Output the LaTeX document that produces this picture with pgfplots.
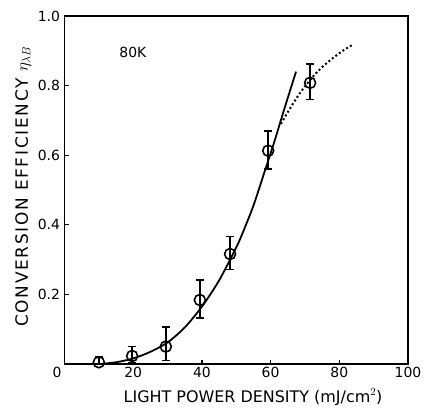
\documentclass[border=0pt]{standalone}
\usepackage{fontspec}
\setmainfont{DejaVu Sans}
\usepackage{pgfplots}
\pgfplotsset{compat=1.18}

\begin{document}
\begin{tikzpicture}
	\begin{axis}[
	scale only axis,
	width=343.5bp,
	height=348bp,
	xmin=0, xmax=100,
	ymin=0, ymax=1,
	xtick={0,20,...,100},
	xticklabels={{\makebox[0pt][r]{0\kern3bp}},20,40,60,80,100},
	ytick={0.2,0.4,0.6,0.8,1.0},
	xtick pos=left,
	ytick pos=left,
	tick align=inside,
	major tick length=4bp,
	axis line style={line width=1.9pt},
	tick style={line width=1.4pt, black},
	/pgf/number format/assume math mode=true,
	yticklabel style={/pgf/number format/fixed, /pgf/number format/precision=1, /pgf/number format/fixed zerofill, font=\fontsize{14}{14}\selectfont, xshift=-1bp},
	xticklabel style={font=\fontsize{14}{14}\selectfont},
	xlabel={LIGHT POWER DENSITY (mJ/cm$^2$)},
	ylabel={\addfontfeature{LetterSpace=10}CONVERSION EFFICIENCY $\eta_{\lambda B}$},
	every axis x label/.style={at={(axis description cs:0.549,-0.095)}, anchor=center, font=\fontsize{16}{16}\selectfont},
	every axis y label/.style={at={(axis description cs:-0.12,0.51)}, anchor=center, rotate=90, font=\fontsize{17}{17}\selectfont},
	]
	% fitted curve (solid)
	\addplot [line width=1.8pt, black, smooth, mark=none] coordinates {
		(10.3,0.0) (15,0.005) (20,0.016) (25,0.035) (30,0.062) (35,0.105)
		(40,0.165) (45,0.24) (50,0.335) (52,0.38) (55,0.455) (58,0.545)
		(61,0.636) (64,0.733) (67.4,0.84)
	};
	% extension (dotted)
	\addplot [line width=2pt, black, smooth, mark=none, dash pattern=on 2pt off 2.4pt] coordinates {
		(63,0.69) (66,0.74) (69,0.785) (72,0.822) (75,0.853) (78,0.878) (81,0.9) (84,0.918)
	};
	% measured points
	\addplot [black, only marks, mark=o, mark size=5.5bp,
		mark options={line width=1.6pt, fill=white},
		error bars/.cd, y dir=both, y explicit,
		error bar style={line width=1.6pt},
		error mark options={line width=1.6pt, mark size=4bp, rotate=90}]
		coordinates {
		(10.0,0.005) += (0,0.015) -= (0,0.005)
		(19.7,0.023) += (0,0.027) -= (0,0.02)
		(29.5,0.050) += (0,0.057) -= (0,0.04)
		(39.4,0.184) += (0,0.057) -= (0,0.052)
		(48.2,0.316) += (0,0.050) -= (0,0.044)
		(59.3,0.613) += (0,0.057) -= (0,0.053)
		(71.5,0.808) += (0,0.054) -= (0,0.048)
	};
	\node[font=\fontsize{14}{14}\selectfont] at (axis cs:19.9,0.894) {80K};
	\end{axis}
	\path (current axis.south west) ++(-64.5bp,-47bp) rectangle ([shift={(20bp,16bp)}]current axis.north east);
\end{tikzpicture}
\end{document}
